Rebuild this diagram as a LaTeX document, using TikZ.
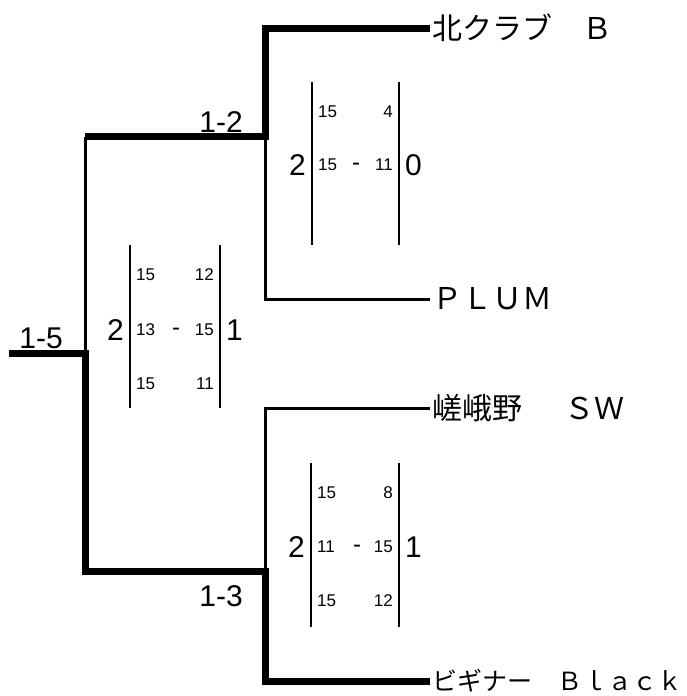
\documentclass[tikz,border=0pt]{standalone}
\usepackage{fontspec}
\setmainfont{Liberation Sans}
\newfontfamily\jpfont{Noto Sans CJK JP}
\usetikzlibrary{positioning}

\begin{document}
\begin{tikzpicture}[x=1pt, y=-1pt,
    win/.style={line width=7pt},
    lose/.style={line width=3pt},
    bar/.style={line width=2.8pt},
    team/.style={anchor=west, inner sep=2pt, font=\jpfont\fontsize{30}{30}\selectfont},
    rnd/.style={inner sep=0pt, anchor=base east, font=\fontsize{30}{30}\selectfont},
    sets/.style={inner sep=0pt, font=\fontsize{30}{30}\selectfont},
    pts/.style={inner sep=0pt, font=\fontsize{17}{17}\selectfont},
    minus/.style={inner sep=0pt, anchor=base, font=\fontsize{24}{24}\selectfont}]
    \useasboundingbox (0,0) rectangle (687,696);

    % teams
    \node[team] (kita) at (430,28) {北クラブ　Ｂ};
    \node[team] (plum) at (430,299) {ＰＬＵＭ};
    \node[team] (saga) at (430,408) {嵯峨野　\hspace{12pt}ＳＷ};
    \node[team, font=\jpfont\fontsize{25}{25}\selectfont] (begi) at (430,681) {ビギナー　Ｂｌａｃｋ};

    \coordinate (m12) at (265,136.5);
    \coordinate (m13) at (265,571.5);
    \coordinate (m15) at (85,353.5);
    \coordinate (root) at (9,353.5);

    % bracket
    \draw[win] (kita.west) -| (m12) -- (m12 -| m15);
    \draw[lose] (m12) |- (plum.west);
    \draw[lose] (m12 -| m15) -- (m15);
    \draw[win] (root) -- (m15) |- (m13) |- (begi.west);
    \draw[lose] (m13) |- (saga.west);

    \node[rnd] (r12) at (243,132) {1-2};
    \node[rnd] (r15) at (63,348) {1-5};
    \node[rnd] (r13) at (243,606) {1-3};

    % 1-2 score
    \draw[bar] (312,82) -- (312,245);
    \draw[bar] (399,82) -- (399,245);
    \node[sets, anchor=base east] (u-l) at (306,175) {2};
    \node[sets, anchor=base west] (u-r) at (405,175) {0};
    \foreach \n/\y/\a/\b in {1/111/15/4, 2/164/15/11}
    {
        \node[pts, anchor=base west] (u\n-a) at (318,\y+6) {\a};
        \node[pts, anchor=base east] (u\n-b) at (393,\y+6) {\b};
    }
    \node[minus] (u-dash) at (356,170.5) {-};

    % 1-5 score
    \draw[bar] (130,245) -- (130,408);
    \draw[bar] (220,245) -- (220,408);
    \node[sets, anchor=base east] (c-l) at (124,340) {2};
    \node[sets, anchor=base west] (c-r) at (226,340) {1};
    \foreach \n/\y/\a/\b in {1/274/15/12, 2/329/13/15, 3/383/15/11}
    {
        \node[pts, anchor=base west] (c\n-a) at (136,\y+6) {\a};
        \node[pts, anchor=base east] (c\n-b) at (214,\y+6) {\b};
    }
    \node[minus] (c-dash) at (176,335.5) {-};

    % 1-3 score
    \draw[bar] (311,463) -- (311,627);
    \draw[bar] (399,463) -- (399,627);
    \node[sets, anchor=base east] (d-l) at (305,557) {2};
    \node[sets, anchor=base west] (d-r) at (405,557) {1};
    \foreach \n/\y/\a/\b in {1/492/15/8, 2/546/11/15, 3/600/15/12}
    {
        \node[pts, anchor=base west] (d\n-a) at (317,\y+6) {\a};
        \node[pts, anchor=base east] (d\n-b) at (393,\y+6) {\b};
    }
    \node[minus] (d-dash) at (357,552.5) {-};
\end{tikzpicture}
\end{document}
